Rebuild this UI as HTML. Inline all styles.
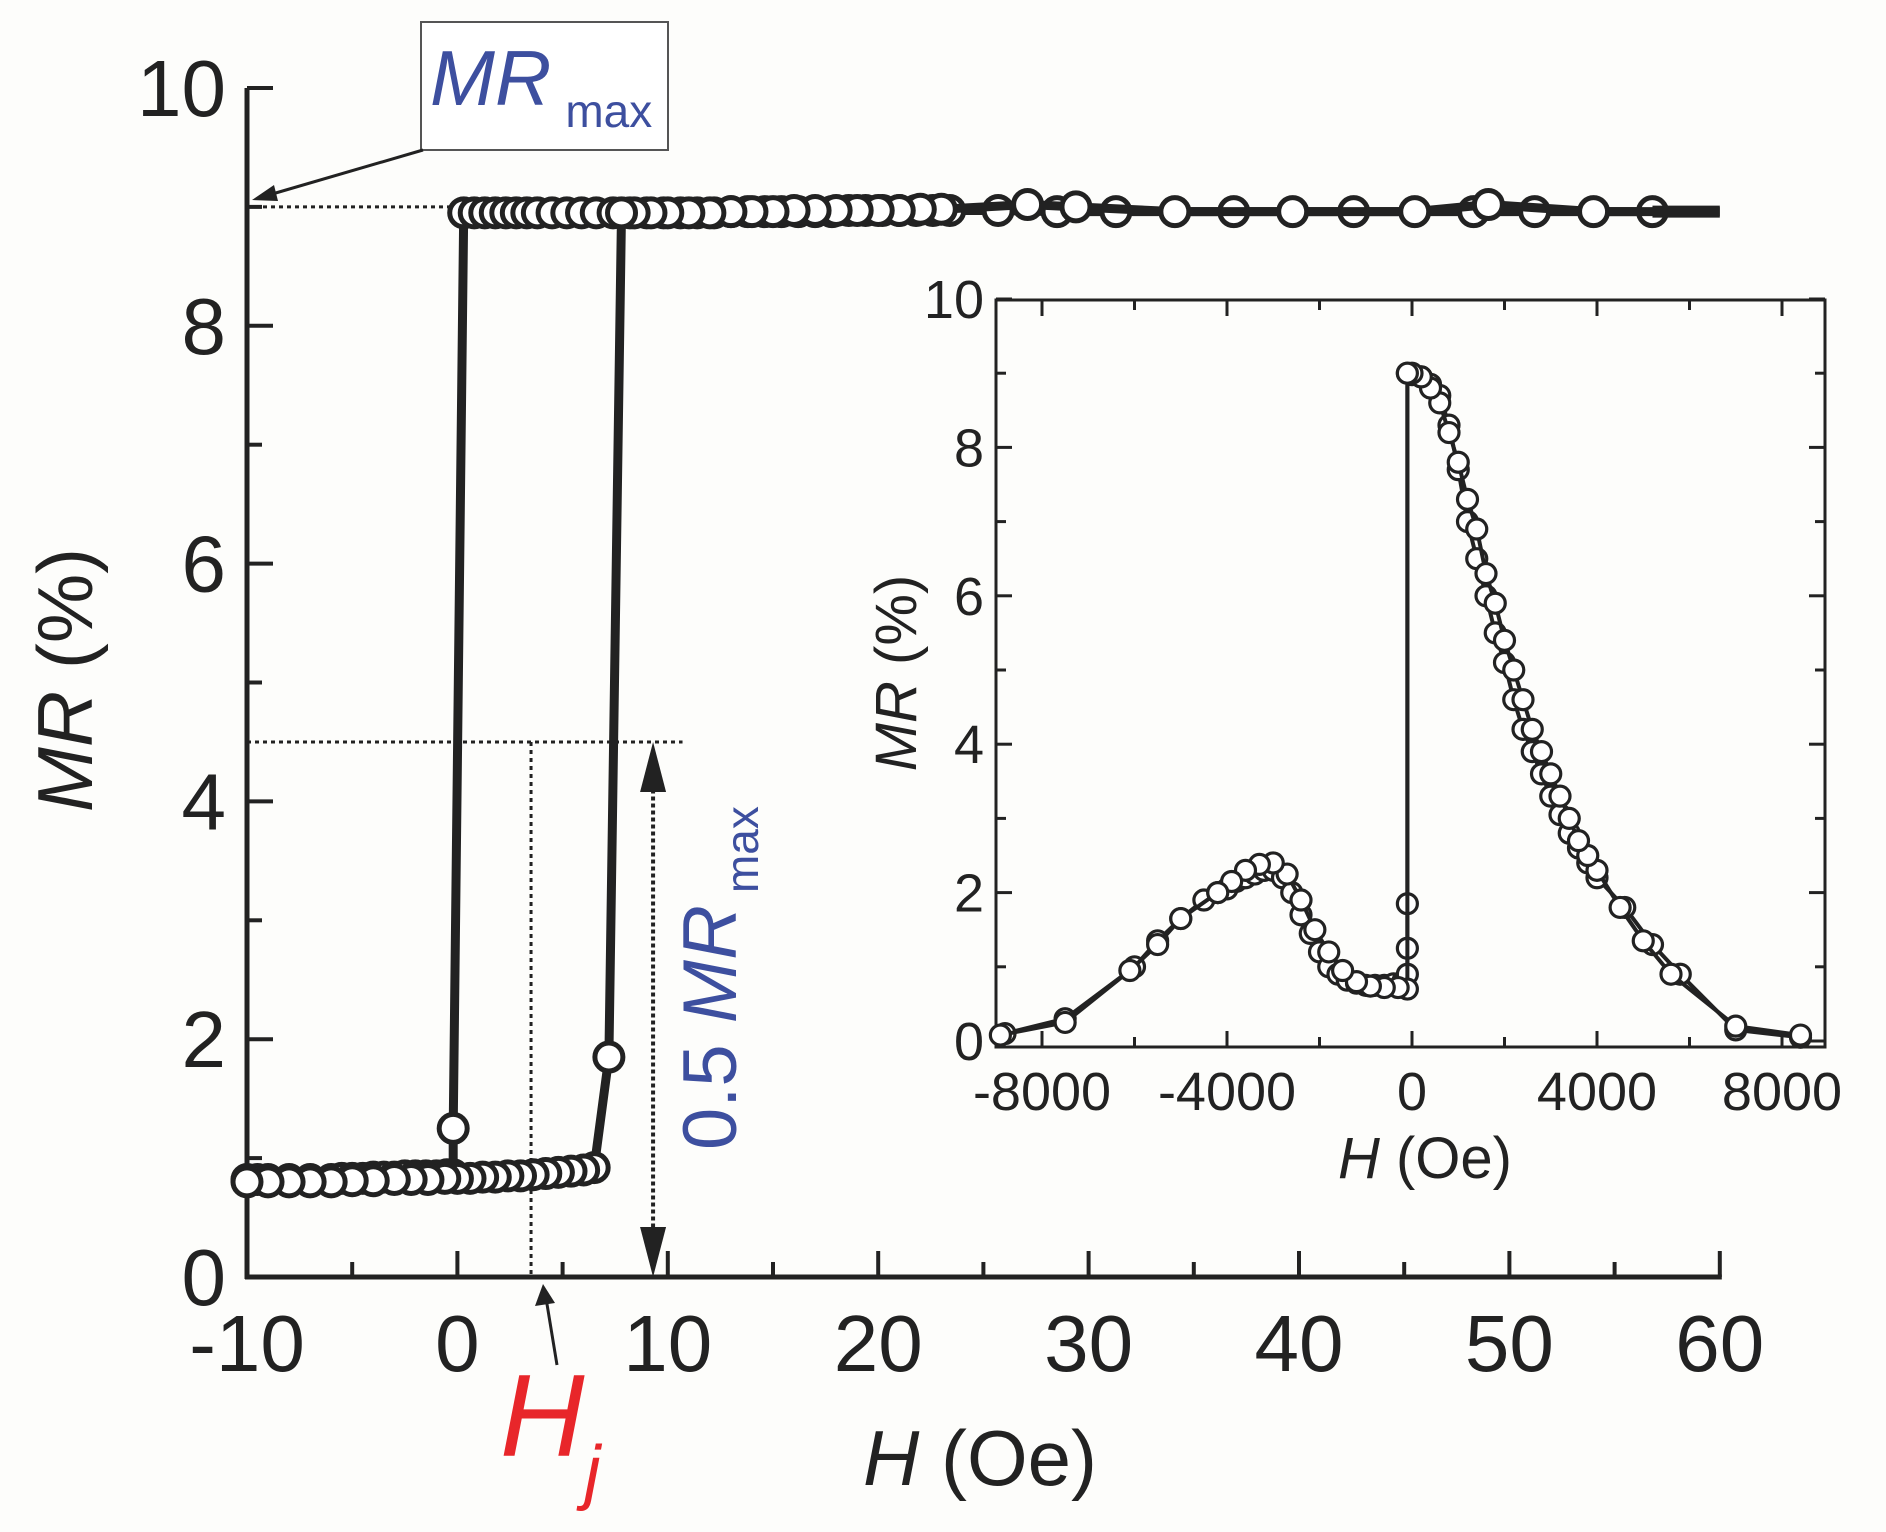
<!DOCTYPE html>
<html><head><meta charset="utf-8"><style>
html,body{margin:0;padding:0;background:#fff;}
svg{display:block;font-family:"Liberation Sans",sans-serif;}
</style></head><body>
<svg id="chart" width="1886" height="1532" viewBox="0 0 1886 1532" xmlns="http://www.w3.org/2000/svg">
<rect width="1886" height="1532" fill="#fdfdfb"/>
<g id="main"></g>
<g id="inset"></g>
<g id="annot">
  <rect x="421" y="22" width="247" height="128" fill="#fff" stroke="#555" stroke-width="2"/>
  <text x="430" y="105" font-size="78" font-style="italic" fill="#3d4f9f">MR<tspan font-size="46" font-style="normal" dx="14" dy="22">max</tspan></text>
  <line x1="423" y1="150" x2="262" y2="197" stroke="#222" stroke-width="3"/>
  <polygon points="252,200 274,185 278,201" fill="#222"/>
  <line x1="557" y1="1365" x2="546" y2="1298" stroke="#222" stroke-width="3"/>
  <polygon points="543,1284 535,1306 555,1303" fill="#222"/>
  <text x="500" y="1456" font-size="117" font-style="italic" fill="#e8262a">H<tspan font-size="72" dy="40">j</tspan></text>
  <text transform="translate(736,1150) rotate(-90)" font-size="76" fill="#3d4f9f">0.5 <tspan font-style="italic">MR</tspan><tspan font-size="46" dx="12" dy="22">max</tspan></text>
  <text x="980" y="1485" font-size="78" text-anchor="middle" fill="#222"><tspan font-style="italic">H</tspan> (Oe)</text>
  <text transform="translate(92,680) rotate(-90)" font-size="78" text-anchor="middle" fill="#222"><tspan font-style="italic">MR</tspan> (%)</text>
  <text x="1425" y="1178" font-size="58" text-anchor="middle" fill="#222"><tspan font-style="italic">H</tspan> (Oe)</text>
  <text transform="translate(916,673) rotate(-90)" font-size="58" text-anchor="middle" fill="#222"><tspan font-style="italic">MR</tspan> (%)</text>
</g>
</svg>
<script>
// ---- main plot data ----
const mainXTicks = [-10,0,10,20,30,40,50,60];
const mainYTicks = [0,2,4,6,8,10];
const upSweepH = [-10,-9.5,-9,-8,-7,-6,-5.5,-5,-4.5,-4,-3.5,-3,-2.5,-2,-1.5,-1,-0.5,-0.2,-0.2,0.3,0.8,1.3,1.8,2.3,2.8,3.3,3.8,4.5,5.2,5.9,6.6,7.4,8.2,9,9.8,10.6,11.4,12.2,13,13.8,14.6,15.4,16.2,17,17.8,18.6,19.4,20.2,21,21.8,22.6,23.4,25.7,28.5,31.3,36.9,42.6,48.3,51.2,56.8];
const upSweepMR = [0.82,0.82,0.82,0.82,0.82,0.82,0.83,0.83,0.83,0.84,0.84,0.84,0.85,0.85,0.85,0.85,0.86,0.86,1.25,8.95,8.95,8.95,8.95,8.95,8.95,8.95,8.95,8.95,8.95,8.95,8.95,8.95,8.95,8.95,8.95,8.95,8.95,8.95,8.96,8.96,8.96,8.96,8.96,8.96,8.96,8.97,8.97,8.97,8.97,8.97,8.97,8.97,8.97,8.96,8.96,8.96,8.96,8.96,8.96,8.96];
const downSweepH = [60,54,49,45.5,39.7,34.1,29.4,27.1,23,22,21,20,19,18,17,16,15,14,13,12,11,10,9.2,8.4,7.8,7.2,6.5,6,5.4,4.8,4.2,3.6,3,2.4,1.8,1.2,0.6,0,-0.6,-1.4,-2.2,-3,-4,-5,-6,-7,-8,-9,-10];
const downSweepMR = [8.96,8.96,9.02,8.96,8.96,8.96,9.0,9.02,8.98,8.98,8.97,8.97,8.97,8.97,8.97,8.97,8.96,8.96,8.96,8.95,8.95,8.95,8.95,8.95,8.95,1.85,0.92,0.9,0.89,0.88,0.87,0.86,0.85,0.85,0.84,0.84,0.83,0.83,0.83,0.82,0.82,0.82,0.81,0.81,0.8,0.8,0.8,0.8,0.8];
// ---- inset data ----
const insetXTicks = [-8000,-4000,0,4000,8000];
const insetYTicks = [0,2,4,6,8,10];
const insetUpH = [-8800,-7500,-6000,-5500,-5000,-4500,-4200,-4000,-3800,-3600,-3400,-3200,-3000,-2800,-2600,-2400,-2200,-2000,-1800,-1600,-1400,-1200,-1000,-800,-600,-400,-200,-100,-100,-100,-100,0,200,400,600,800,1000,1200,1400,1600,1800,2000,2200,2400,2600,2800,3000,3200,3400,3600,3800,4000,4600,5200,5800,7000,8400];
const insetUpMR = [0.1,0.3,1.0,1.35,1.65,1.9,2.0,2.05,2.15,2.2,2.25,2.3,2.3,2.2,2.0,1.7,1.45,1.2,1.0,0.9,0.82,0.78,0.75,0.75,0.75,0.77,0.8,0.9,1.25,1.85,9.0,8.98,8.95,8.85,8.7,8.3,7.7,7.0,6.5,6.0,5.5,5.1,4.6,4.2,3.9,3.6,3.3,3.05,2.8,2.6,2.4,2.2,1.8,1.3,0.9,0.15,0.05];
const insetDownH = [8400,7000,5600,5000,4500,4000,3800,3600,3400,3200,3000,2800,2600,2400,2200,2000,1800,1600,1400,1200,1000,800,600,400,200,0,-100,-100,-300,-600,-900,-1200,-1500,-1800,-2100,-2400,-2700,-3000,-3300,-3600,-3900,-4200,-5000,-5500,-6100,-7500,-8900];
const insetDownMR = [0.08,0.2,0.9,1.35,1.8,2.3,2.5,2.7,3.0,3.3,3.6,3.9,4.2,4.6,5.0,5.4,5.9,6.3,6.9,7.3,7.8,8.2,8.6,8.8,8.95,9.0,9.0,0.7,0.72,0.72,0.74,0.8,0.95,1.2,1.5,1.9,2.25,2.4,2.38,2.3,2.15,2.0,1.65,1.3,0.95,0.25,0.08];

const NS = "http://www.w3.org/2000/svg";
function mk(parent, tag, attrs){ const e=document.createElementNS(NS,tag); for(const k in attrs) e.setAttribute(k,attrs[k]); parent.appendChild(e); return e; }

const mx = v => 247 + (v + 10) * 21.04;
const my = v => 1277 - v * 118.9;
const main = document.getElementById('main');
const dark = "#222";

let d;
d = mk(main,'line',{x1:mx(-10),y1:my(9.0),x2:mx(0.3),y2:my(9.0),stroke:dark,'stroke-width':3,'stroke-dasharray':'4 4'});


d = mk(main,'line',{x1:mx(-10),y1:my(4.5),x2:mx(10.7),y2:my(4.5),stroke:dark,'stroke-width':3,'stroke-dasharray':'4 4'});


d = mk(main,'line',{x1:mx(3.5),y1:my(4.5),x2:mx(3.5),y2:my(0),stroke:dark,'stroke-width':3,'stroke-dasharray':'4 4'});


d = mk(main,'line',{x1:mx(9.3),y1:my(4.1),x2:mx(9.3),y2:my(0.35),stroke:dark,'stroke-width':4,'stroke-dasharray':'4 3'});


d = mk(main,'polygon',{points:`${mx(9.3)},${my(4.5)} ${mx(9.3)-13},${my(4.5)+50} ${mx(9.3)+13},${my(4.5)+50}`,fill:dark});


d = mk(main,'polygon',{points:`${mx(9.3)},${my(0)} ${mx(9.3)-13},${my(0)-50} ${mx(9.3)+13},${my(0)-50}`,fill:dark});



let ax = mk(main,'line',{x1:mx(-10),y1:my(0)+2,x2:mx(-10),y2:my(10),stroke:dark,'stroke-width':5});


ax = mk(main,'line',{x1:mx(-10)-2,y1:my(0),x2:mx(60)+2,y2:my(0),stroke:dark,'stroke-width':5});


for(let v=-10; v<=60; v+=5){
  const major = mainXTicks.includes(v);
  const t = mk(main,'line',{x1:mx(v),y1:my(0),x2:mx(v),y2:my(0)-(major?26:15),stroke:dark,'stroke-width':4});
  
  
}
mainXTicks.forEach(v=>{
  const t = mk(main,'text',{x:mx(v),y:1371,'font-size':80,'text-anchor':'middle',fill:dark});
  t.textContent = String(v);
  
  
});
for(let v=0; v<=10; v+=1){
  const major = mainYTicks.includes(v);
  const t = mk(main,'line',{x1:mx(-10),y1:my(v),x2:mx(-10)+(major?26:15),y2:my(v),stroke:dark,'stroke-width':4});
  
  
}
mainYTicks.forEach(v=>{
  const t = mk(main,'text',{x:226,y:my(v)+28,'font-size':80,'text-anchor':'end',fill:dark});
  t.textContent = String(v);
  
  
});

function series(parent, xs, ys, fx, fy, lw, r, sw, name){
  const g = mk(parent,'g',{});
  
  
  const pts = xs.map((x,i)=>fx(x)+','+fy(ys[i])).join(' ');
  const pl = mk(g,'polyline',{points:pts,fill:'none',stroke:dark,'stroke-width':lw,'stroke-linejoin':'round'});
  
  
  xs.forEach((x,i)=>{
    if(parent===main && x===60) return;
    const c = mk(g,'circle',{cx:fx(x),cy:fy(ys[i]),r:r,fill:'#fff',stroke:dark,'stroke-width':sw});
    
    
  });
}
series(main, upSweepH, upSweepMR, mx, my, 9, 14, 5, 'up-sweep');
series(main, downSweepH, downSweepMR, mx, my, 9, 14, 5, 'down-sweep');
d = mk(main,'line',{x1:mx(56.8),y1:my(8.96),x2:mx(60),y2:my(8.96),stroke:dark,'stroke-width':12});



const ix = h => 1412 + h * 0.04625;
const iy = v => 1041 - v * 74.2;
const inset = document.getElementById('inset');
const fr = mk(inset,'rect',{x:996,y:300,width:829,height:747,fill:'#fdfdfb',stroke:dark,'stroke-width':3});


for(let h=-8000; h<=8000; h+=2000){
  const major = insetXTicks.includes(h);
  const L = major?16:10;
  let t = mk(inset,'line',{x1:ix(h),y1:1047,x2:ix(h),y2:1047-L,stroke:dark,'stroke-width':3});
  
  
  t = mk(inset,'line',{x1:ix(h),y1:300,x2:ix(h),y2:300+L,stroke:dark,'stroke-width':3});
  
  
}
insetXTicks.forEach(h=>{
  const t = mk(inset,'text',{x:ix(h),y:1110,'font-size':54,'text-anchor':'middle',fill:dark});
  t.textContent = String(h);
  
  
});
for(let v=0; v<=10; v+=1){
  const major = insetYTicks.includes(v);
  const L = major?16:10;
  let t = mk(inset,'line',{x1:996,y1:iy(v),x2:996+L,y2:iy(v),stroke:dark,'stroke-width':3});
  
  
  t = mk(inset,'line',{x1:1825,y1:iy(v),x2:1825-L,y2:iy(v),stroke:dark,'stroke-width':3});
  
  
}
insetYTicks.forEach(v=>{
  const t = mk(inset,'text',{x:984,y:iy(v)+19,'font-size':54,'text-anchor':'end',fill:dark});
  t.textContent = String(v);
  
  
});
series(inset, insetUpH, insetUpMR, ix, iy, 4, 10, 3.2, 'inset-up-sweep');
series(inset, insetDownH, insetDownMR, ix, iy, 4, 10, 3.2, 'inset-down-sweep');
</script>
</body></html>
